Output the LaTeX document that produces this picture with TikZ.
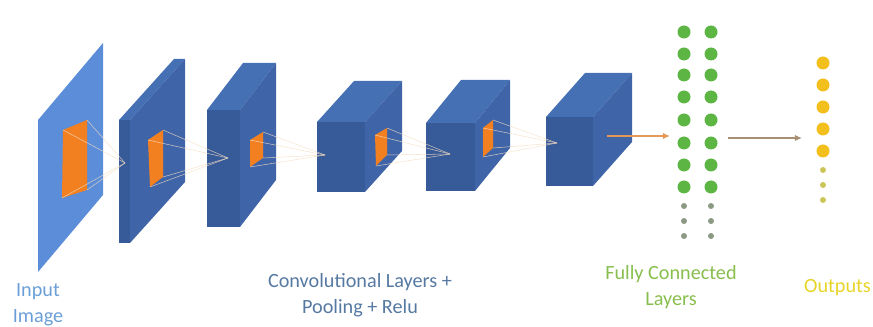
\documentclass[tikz,border=0pt]{standalone}
\usepackage{fontspec}
\setmainfont{Carlito}
\usepackage{tikz}
\usetikzlibrary{arrows.meta,positioning}

\definecolor{inblue}{HTML}{5B8DD8}
\definecolor{boxfront}{HTML}{375A98}
\definecolor{boxside}{HTML}{3F65A8}
\definecolor{boxtop}{HTML}{4570B4}
\definecolor{patch}{HTML}{F28021}
\definecolor{fanc}{HTML}{F4DDC4}
\definecolor{fcgreen}{HTML}{5DB544}
\definecolor{fcgrey}{HTML}{8C9A84}
\definecolor{outyellow}{HTML}{F2BF1C}
\definecolor{outsmall}{HTML}{CCC65A}
\definecolor{arrA}{HTML}{E29A56}
\definecolor{arrB}{HTML}{A88E72}
\definecolor{txtin}{HTML}{6A9FD8}
\definecolor{txtconv}{HTML}{5679A2}
\definecolor{txtfc}{HTML}{88BE4E}
\definecolor{txtout}{HTML}{E6D426}

% box: name, x, y (front top left), width, height, depth dx, depth dy
\newcommand{\cnnbox}[7]{%
  \fill[boxtop] (#2,#3) -- ({#2+#6},{#3-#7}) -- ({#2+#4+#6},{#3-#7}) -- ({#2+#4},#3) -- cycle;
  \fill[boxside] ({#2+#4},#3) -- ({#2+#4+#6},{#3-#7}) -- ({#2+#4+#6},{#3+#5-#7}) -- ({#2+#4},{#3+#5}) -- cycle;
  \fill[boxfront] (#2,#3) rectangle ({#2+#4},{#3+#5});
  \coordinate (#1) at ({#2+#4/2},{#3+#5/2});
}

\begin{document}
\begin{tikzpicture}[x=0.02cm,y=-0.02cm,
    fanline/.style={fanc, line width=0.3pt, opacity=0.8},
    bigdot/.style={circle, inner sep=0pt, minimum size=0.26cm},
    smalldot/.style={circle, inner sep=0pt, minimum size=0.12cm},
    flow/.style={line width=0.7pt, -{Latex[length=4pt,width=3.5pt]}},
    caption/.style={align=center, font=\fontsize{11.5}{15}\selectfont}]
    \useasboundingbox (0,0) rectangle (873,327);

    % input image
    \fill[inblue] (38,120) -- (103,43) -- (103,195) -- (38,272) -- cycle;
    \fill[patch] (63,130) coordinate (p0-1) -- (87,120) coordinate (p0-2)
        -- (87,190) coordinate (p0-3) -- (62,198) coordinate (p0-4) -- cycle;

    % conv + pooling layers
    \cnnbox{l1}{119}{120}{11}{123}{55}{61}
    \fill[patch] (148,140) coordinate (p1-1) -- (163,130) coordinate (p1-2)
        -- (163,177) coordinate (p1-3) -- (150,187) coordinate (p1-4) -- cycle;
    \cnnbox{l2}{207}{110}{33}{117}{36}{47}
    \fill[patch] (250,140) coordinate (p2-1) -- (263,132) coordinate (p2-2)
        -- (263,158) coordinate (p2-3) -- (250,167) coordinate (p2-4) -- cycle;
    \cnnbox{l3}{317}{122}{48}{70}{37}{41}
    \fill[patch] (375,135) coordinate (p3-1) -- (387,128) coordinate (p3-2)
        -- (387,155) coordinate (p3-3) -- (376,166) coordinate (p3-4) -- cycle;
    \cnnbox{l4}{426}{123}{49}{68}{35}{43}
    \fill[patch] (483,128) coordinate (p4-1) -- (493,120) coordinate (p4-2)
        -- (493,148) coordinate (p4-3) -- (483,157) coordinate (p4-4) -- cycle;
    \cnnbox{l5}{546}{117}{47}{69}{39}{44}

    \coordinate (t1) at (125,163);
    \coordinate (t2) at (228,158);
    \coordinate (t3) at (325,155);
    \coordinate (t4) at (450,154);
    \coordinate (t5) at (557,143);
    \foreach \s/\t in {p0/t1,p1/t2,p2/t3,p3/t4,p4/t5}
        \foreach \k in {1,...,4}
            \draw[fanline] (\s-\k) -- (\t);

    % fully connected
    \foreach \y [count=\n] in {32,54,75,97,120,143,165,187} {
        \node[bigdot, fill=fcgreen] (fa-\n) at (684,\y) {};
        \node[bigdot, fill=fcgreen] (fb-\n) at (711,\y) {};
    }
    \foreach \y [count=\n] in {206,221,236} {
        \node[smalldot, fill=fcgrey] (fas-\n) at (684,\y) {};
        \node[smalldot, fill=fcgrey] (fbs-\n) at (711,\y) {};
    }

    % outputs
    \foreach \y [count=\n] in {63,85,107,129,151} 
        \node[bigdot, fill=outyellow] (o-\n) at (823,\y) {};
    \foreach \y [count=\n] in {170,185,200}
        \node[smalldot, fill=outsmall] (os-\n) at (823,\y) {};

    \coordinate (l5out) at (607,136);
    \coordinate (fcin) at (670,136);
    \coordinate (fcout) at (728,138);
    \coordinate (outin) at (802,138);
    \draw[flow, arrA] (l5out) -- (fcin);
    \draw[flow, arrB] (fcout) -- (outin);

    % labels
    \node[caption, txtin] (lin) at (38,305) {Input\\Image};
    \node[caption, txtconv] (lconv) at (360,295) {Convolutional Layers +\\Pooling + Relu};
    \node[caption, txtfc] (lfc) at (671,287) {Fully Connected\\Layers};
    \node[caption, txtout, anchor=west] (lout) at (798,288) {Outputs};
\end{tikzpicture}
\end{document}
